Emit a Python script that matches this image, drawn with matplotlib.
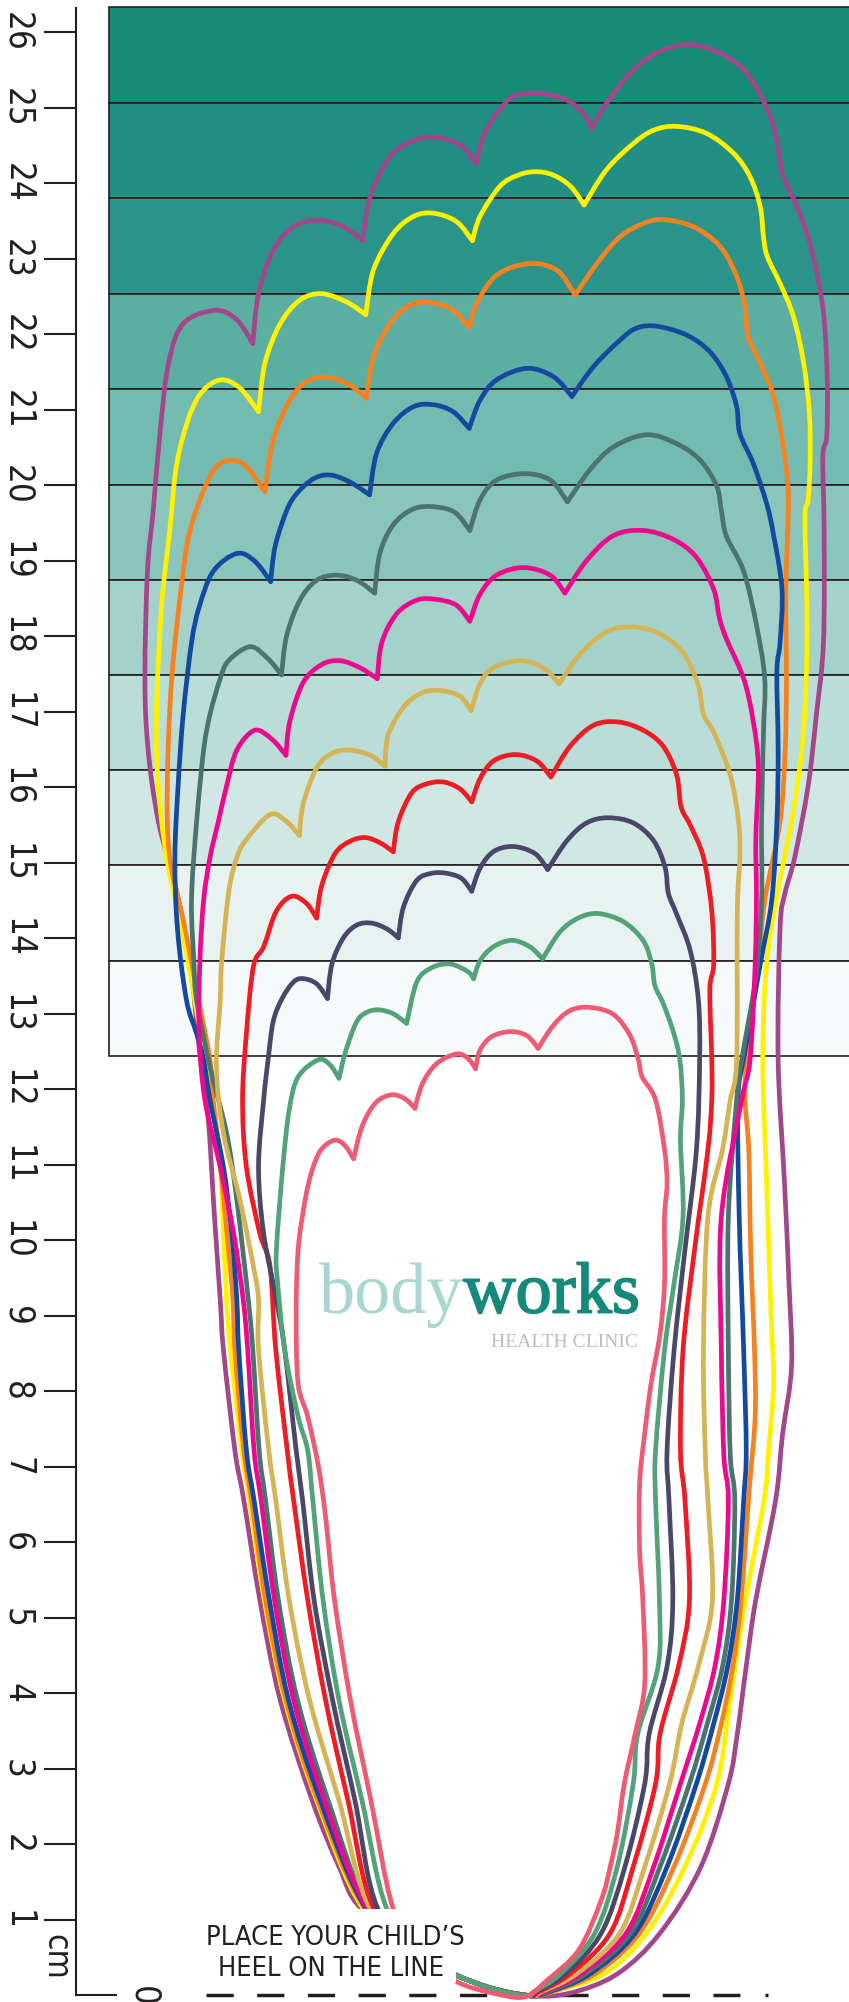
import numpy as np
import matplotlib
matplotlib.use("Agg")
import matplotlib.pyplot as plt
import matplotlib.patheffects as pe
from matplotlib.path import Path
from matplotlib.patches import PathPatch, Rectangle
from matplotlib import font_manager

# picture units: 665 x 1568 (scaled copy of the 849 x 2002 sheet)
W, H = 665, 1568

# shoe size bands behind the toes (top edges + last bottom), light to dark
band_edges = [5.5, 80.7, 155.1, 229.9, 304.7, 379.5, 454.0, 528.8, 603.4, 677.6, 752.4, 827.2]
band_colors = ["#168B78", "#228F84", "#2B948A", "#5BAEA2", "#73BAB0", "#8AC5BC",
               "#A4D1CA", "#BADDD7", "#D1E7E3", "#E8F2F0", "#F6FAFB"]

cm_ticks = list(range(1, 27))

# outlines: [heel/sides segment, toe4, toe3, toe2]; cusps are segment ends
foot_purple = [
    [(463.5, 100.5), (475, 81), (493.5, 57.5), (514, 41.5), (538, 35), (559, 39.5), (580, 52), (595, 73),
     (606, 99), (610.5, 122.5), (613.5, 138.5), (626.5, 167), (637, 201), (645, 245), (648, 298),
     (647.5, 342), (644.5, 357.5), (645.5, 415), (645, 503), (639.5, 559.5), (633, 615.5), (622.5, 671.5),
     (615, 699), (611, 727), (609.5, 830), (614.5, 927), (618, 1005), (620, 1070), (613, 1123),
     (607.5, 1175), (592, 1253), (584.5, 1305), (577.5, 1358), (570.5, 1397), (549, 1462), (517, 1514),
     (483.5, 1546), (446.5, 1561), (415, 1563), (378, 1555), (335, 1535), (283, 1495), (265.5, 1462),
     (244.5, 1410), (219.5, 1331.5), (203.5, 1253), (191, 1175), (184, 1136), (175, 1057), (172.5, 1018),
     (168, 953), (163, 875), (157, 830), (149, 755), (138.5, 699), (124, 643), (116, 587), (113.5, 531.5),
     (115.5, 447.5), (120, 400), (125.5, 337), (132, 284.5), (143.5, 253.5), (168.5, 243), (185.5, 250.5),
     (198, 269)],
    [(198, 269), (202.5, 230), (214, 196), (230, 177.5), (249.5, 172.5), (269, 177.5), (284, 188.5)],
    [(284, 188.5), (290, 154), (305.5, 122.5), (324, 110), (340.5, 107.5), (360.5, 113.5), (373, 128)],
    [(373, 128), (378.5, 107), (389, 89), (402, 75.5), (421.5, 73), (444, 78.5), (457, 89), (463.5, 100.5)],
]

foot_yellow = [
    [(457.5, 160.5), (475, 133), (496, 112.5), (512, 102), (530, 99), (553.5, 104.5), (574.5, 120),
     (587.5, 138.5), (595.5, 162), (598, 185.5), (601, 201), (611, 222), (621.5, 248), (629.5, 284.5),
     (634, 324), (634.5, 363), (633, 391.5), (630.5, 405.5), (632, 475.5), (631.5, 531.5), (628, 587.5),
     (620, 643.5), (608.5, 702), (600.5, 755), (597.5, 830), (600.5, 927), (604, 1031), (606, 1083.5),
     (602, 1136), (598.5, 1175), (584, 1253), (572, 1331), (561.5, 1397), (536.5, 1462), (506.5, 1514),
     (473, 1546), (430, 1560.5), (415, 1563), (378, 1555), (335, 1535), (284.5, 1495), (248, 1410),
     (223, 1331.5), (207, 1253), (195.5, 1175), (189.5, 1136), (180.5, 1057), (177.5, 1018), (175, 966),
     (172.5, 914), (166, 862), (160.5, 830), (152.5, 783), (142.5, 727.5), (130.5, 671.5), (124, 615.5),
     (122.5, 559.5), (126.5, 475.5), (133, 415), (138.5, 363), (149, 324), (159.5, 305.5), (173.5, 297.5),
     (188, 304), (202.5, 322.5)],
    [(202.5, 322.5), (207.5, 284.5), (219.5, 253.5), (235, 235), (252, 230), (271.5, 236.5), (286.5, 246.5)],
    [(286.5, 246.5), (292.5, 211.5), (308, 183), (324, 169.5), (339.5, 167), (357.5, 173.5), (370, 188.5)],
    [(370, 188.5), (376, 169.5), (391.5, 146), (405, 137.5), (419, 134.5), (433, 137), (447, 146),
     (457.5, 160.5)],
]

foot_orange = [
    [(450.5, 231), (467.5, 206.5), (485.5, 185.5), (504, 175), (519.5, 172), (543, 177.5), (564, 193),
     (577, 216.5), (583.5, 240), (586, 263.5), (595.5, 284.5), (606, 310.5), (613.5, 350), (617.5, 389),
     (615.5, 461.5), (616, 531.5), (615, 587.5), (611, 643.5), (599, 705), (594, 755), (585, 830),
     (583.5, 861.5), (586.5, 900.5), (588, 979), (591, 1057.5), (591.5, 1109.5), (587, 1165), (580.5, 1253),
     (574, 1305), (565, 1350), (552.5, 1397), (528, 1462), (501, 1514), (466, 1546), (432, 1560),
     (415, 1563), (378, 1555), (335, 1535), (286, 1495), (249, 1410), (224, 1331.5), (208, 1253),
     (197, 1175), (191, 1136), (184, 1057.5), (182.5, 1018), (179, 979), (171.5, 900.5), (167, 861.5),
     (164.5, 830), (155.5, 783), (145, 727.5), (133, 671.5), (131, 615.5), (134.5, 531.5), (143.5, 447.5),
     (149, 415), (159.5, 384), (169.5, 365.5), (181.5, 360.5), (193, 365.5), (207.5, 385)],
    [(207.5, 385), (214, 344.5), (227, 313.5), (240, 299), (256, 295.5), (274, 301.5), (287, 312)],
    [(287, 312), (292.5, 279.5), (305.5, 253.5), (321, 239), (338, 237), (355, 243), (367.5, 256.5)],
    [(367.5, 256.5), (373.5, 237.5), (389, 215.5), (414, 206.5), (436, 211.5), (450.5, 231)],
]

foot_blue = [
    [(448, 310.5), (465, 287), (485.5, 266.5), (498.5, 257), (514.5, 255.5), (538, 262.5), (556, 275.5),
     (569, 295), (577, 318.5), (579.5, 339.5), (590, 363), (600.5, 394.5), (606, 419.5), (612.5, 461.5),
     (611, 503.5), (608.5, 526), (609.5, 587.5), (608.5, 643.5), (604.5, 705), (595.5, 755), (583, 826),
     (578, 861.5), (579, 953), (582.5, 1057.5), (584.5, 1136), (582.5, 1175), (577.5, 1253), (570, 1305),
     (559, 1350), (545.5, 1397), (522.5, 1462), (497.5, 1514), (462, 1546), (430, 1560), (415, 1563),
     (378, 1555), (335, 1535), (287, 1495), (251, 1410), (226, 1331.5), (211, 1253), (199, 1175),
     (193, 1136), (187, 1057), (185.5, 1018), (181.5, 966), (175, 914), (164.5, 861.5), (159.5, 830),
     (154, 809.5), (146, 783), (139, 727.5), (137, 671.5), (139.5, 615.5), (143.5, 559.5), (150, 503.5),
     (156, 475.5), (167, 447.5), (185.5, 433.5), (199.5, 439.5), (212, 455.5)],
    [(212, 455.5), (215.5, 428), (224.5, 400), (232.5, 386.5), (245.5, 375), (258.5, 372), (274, 377.5),
     (289.5, 387.5)],
    [(289.5, 387.5), (295, 355), (308, 331.5), (324, 318.5), (339.5, 317), (355, 322.5), (367.5, 335.5)],
    [(367.5, 335.5), (376, 313.5), (389, 297.5), (412.5, 288.5), (433.5, 295), (448, 310.5)],
]

foot_slate = [
    [(444.5, 393), (462, 368), (480.5, 350), (506.5, 340.5), (530, 347.5), (548.5, 360.5), (561.5, 381),
     (565, 400), (569, 420), (582.5, 447.5), (592.5, 489.5), (599, 531.5), (598, 573.5), (596.5, 643.5),
     (596.5, 705), (592, 765), (581, 830), (577, 861.5), (570.5, 953), (570.5, 1057), (572, 1140),
     (575.5, 1175), (573, 1253), (566, 1305), (554, 1350), (540, 1397), (517, 1462), (494, 1514),
     (458.5, 1546), (428, 1560), (415, 1563), (378, 1555), (335, 1535), (289, 1495), (257, 1410),
     (233, 1331.5), (218, 1253), (208, 1175), (203, 1136), (198, 1057), (194.5, 1018), (185.5, 940),
     (177.5, 887.5), (164.5, 835.5), (154, 783.5), (152, 755), (150, 705), (154, 643.5), (159.5, 587.5),
     (164.5, 559.5), (172.5, 531.5), (179, 517.5), (196, 506.5), (210, 516), (220.5, 528.5)],
    [(220.5, 528.5), (224.5, 498), (235, 470), (248, 454.5), (263.5, 450.5), (279.5, 454.5), (293.5, 464.5)],
    [(293.5, 464.5), (297.5, 433.5), (308, 411), (324, 398.5), (341, 397), (356.5, 401.5), (368, 415.5)],
    [(368, 415.5), (376, 391.5), (389, 376), (411, 371), (431, 376), (444.5, 393)],
]

foot_magenta = [
    [(442.5, 464.5), (459.5, 439), (480.5, 419.5), (504, 415.5), (527.5, 422.5), (545.5, 436.5),
     (559, 461.5), (563.5, 484), (569, 500.5), (582.5, 531.5), (590, 565), (594, 601.5), (592, 657.5),
     (592.5, 699.5), (591.5, 755), (587.5, 830), (581, 861.5), (565, 953), (565, 1057), (567, 1140),
     (570.5, 1175), (567, 1253), (560, 1305), (548, 1350), (533, 1397), (512, 1462), (490.5, 1514),
     (455, 1546), (426, 1560), (415, 1563), (378, 1555), (335, 1535), (288, 1495), (254, 1410),
     (230, 1331.5), (215, 1253), (204.5, 1175), (199, 1136), (194, 1057), (190.5, 1018), (183, 966),
     (172.5, 914), (160.5, 861.5), (156, 809.5), (156.5, 755), (159.5, 705), (164.5, 671.5), (171, 643.5),
     (177.5, 615.5), (185.5, 587.5), (199.5, 572), (213, 579), (224, 591.5)],
    [(224, 591.5), (227, 565), (237.5, 534.5), (252, 520.5), (266.5, 517.5), (282, 523), (295.5, 531.5)],
    [(295.5, 531.5), (299, 503.5), (310.5, 481), (326.5, 470), (342, 469.5), (357.5, 474), (368, 486.5)],
    [(368, 486.5), (376, 465.5), (389, 450.5), (410, 444.5), (431, 450.5), (442.5, 464.5)],
]

foot_gold = [
    [(438, 535.5), (454.5, 512), (475, 495), (495, 491), (517, 496.5), (535.5, 512), (547, 537),
     (551, 559.5), (559, 573.5), (572, 607), (578.5, 643.5), (579.5, 671.5), (577.5, 713.5), (577, 830),
     (572, 861.5), (566, 900), (554.5, 953), (551, 1057), (552.5, 1140), (554.5, 1175), (558, 1253),
     (547, 1305), (534, 1350), (524.5, 1397), (505, 1462), (485.5, 1514), (451.5, 1546), (424, 1560),
     (415, 1563), (378, 1555), (335, 1535), (290, 1495), (265.5, 1410), (242.5, 1331.5), (226.5, 1253),
     (216, 1175), (210.5, 1136), (202.5, 1057), (202.5, 1018), (198.5, 992), (188, 940), (175, 887.5),
     (169.5, 835.5), (172.5, 783.5), (173.5, 755), (179, 699.5), (185.5, 671.5), (193, 657.5),
     (211.5, 638), (224.5, 643.5), (234.5, 654.5)],
    [(234.5, 654.5), (237.5, 629.5), (248, 601.5), (260, 590), (274, 587.5), (290, 591.5), (301.5, 600)],
    [(301.5, 600), (304, 576), (316, 554), (330.5, 542.5), (346, 541), (360.5, 545.5), (369, 556.5)],
    [(369, 556.5), (376, 535.5), (386.5, 523), (407.5, 517.5), (425.5, 523), (438, 535.5)],
]

foot_red = [
    [(431.5, 608.5), (446.5, 584.5), (465, 568), (484.5, 565.5), (504, 572), (519.5, 584.5), (530, 607),
     (533.5, 632), (540.5, 646), (551, 671.5), (557.5, 713.5), (559, 755), (556, 775), (557.5, 830),
     (557.5, 861.5), (554.5, 900.5), (544, 979), (535, 1057.5), (533, 1136), (536.5, 1175), (540, 1253),
     (531.5, 1305), (517, 1358), (513.5, 1397), (496, 1462), (478, 1514), (446.5, 1546), (422, 1560),
     (414, 1563), (378, 1555), (335, 1535), (293, 1495), (272.5, 1410), (255, 1331.5), (241, 1253),
     (230, 1175), (225, 1136), (216, 1057), (211.5, 992), (203.5, 966), (193, 914), (190, 861.5),
     (193, 809.5), (198.5, 757), (206.5, 741.5), (216.5, 713.5), (228.5, 702), (240, 707.5), (248, 719)],
    [(248, 719), (252, 693.5), (262.5, 668.5), (274, 659), (286, 656), (297.5, 660), (308, 667)],
    [(308, 667), (312, 643.5), (322.5, 621), (334, 614), (347.5, 612.5), (360.5, 618), (369.5, 628)],
    [(369.5, 628), (376, 610), (386.5, 596), (403.5, 591), (420.5, 596), (431.5, 608.5)],
]

foot_dark = [
    [(429, 681), (444, 658.5), (459.5, 644.5), (476.5, 640.5), (496, 644.5), (512, 658.5), (521, 679.5),
     (523.5, 699.5), (530, 716), (540.5, 744), (547, 783), (548, 830), (545.5, 900.5), (536.5, 979),
     (528, 1057.5), (522.5, 1136), (524, 1175), (527, 1253), (522.5, 1305), (508.5, 1358), (505, 1397),
     (489.5, 1462), (471, 1514), (443, 1546), (420, 1560), (413, 1563), (378, 1555), (335, 1535),
     (296, 1495), (278, 1410), (260.5, 1331.5), (246, 1253), (237, 1175), (232, 1136), (223, 1057),
     (216.5, 1018), (206.5, 966), (202.5, 914), (206.5, 861.5), (210, 830), (214, 800), (221, 782),
     (230, 769), (237.5, 766.5), (248, 770.5), (256.5, 782)],
    [(256.5, 782), (260, 755), (269, 734.5), (279.5, 724.5), (291, 723), (303, 727.5), (312, 734.5)],
    [(312, 734.5), (316, 710.5), (326.5, 689.5), (338, 684), (350, 684), (361.5, 688), (369.5, 698)],
    [(369.5, 698), (376, 680), (386.5, 667), (402, 663), (419, 668.5), (429, 681)],
]

foot_green = [
    [(425, 751), (438.5, 730), (453, 719), (468.5, 715.5), (488.5, 722), (504, 737), (510.5, 755),
     (513, 772), (519.5, 786), (527.5, 808.5), (532.5, 830), (534.5, 861.5), (533, 893), (535, 953),
     (528, 1005), (520.5, 1057.5), (513.5, 1136), (513.5, 1175), (516.5, 1253), (515.5, 1305),
     (499.5, 1358), (496, 1397), (483.5, 1462), (466, 1514), (439, 1546), (418, 1560), (412, 1563),
     (378, 1555), (335, 1535), (303, 1495), (283.5, 1410), (265.5, 1331.5), (253, 1253), (245, 1175),
     (241, 1136), (233.5, 1109.5), (223, 1057.5), (217.5, 1005), (216.5, 979), (221.5, 914),
     (226.5, 869.5), (233.5, 843.5), (249.5, 830), (258.5, 834), (265.5, 844.5)],
    [(265.5, 844.5), (271, 822.5), (279.5, 800), (288, 792.5), (297.5, 791), (308, 794), (318.5, 801.5)],
    [(318.5, 801.5), (326.5, 769), (338, 758), (352.5, 755), (366.5, 761), (371, 766.5)],
    [(371, 766.5), (376, 752.5), (386.5, 741.5), (401, 736.5), (415, 741.5), (425, 751)],
]

foot_pink = [
    [(421.5, 821), (433.5, 803), (446.5, 791.5), (462, 789), (480.5, 794.5), (493.5, 811), (500, 830),
     (503, 843.5), (513.5, 861.5), (520.5, 900.5), (522.5, 927), (520.5, 953), (520.5, 1005),
     (517, 1044.5), (510, 1083.5), (505, 1122.5), (501, 1162), (501, 1214), (503.5, 1253), (505, 1318.5),
     (497.5, 1358), (489, 1397), (483.5, 1436), (478, 1462), (471, 1488), (453.5, 1527), (428.5, 1551),
     (411, 1564), (386, 1561), (357.5, 1552), (330, 1532), (308, 1495), (290.5, 1410), (274.5, 1331.5),
     (262, 1253), (255, 1188), (249.5, 1149), (241, 1109.5), (233.5, 1083.5), (232, 1031), (233.5, 979),
     (239, 940), (244.5, 916.5), (251.5, 900.5), (262, 893), (270, 897), (277, 907.5)],
    [(277, 907.5), (283.5, 882.5), (294, 864), (306.5, 857.5), (317, 860.5), (325, 868)],
    [(325, 868), (331, 848.5), (342, 833), (357.5, 825.5), (366.5, 829), (372.5, 837)],
    [(372.5, 837), (376, 822.5), (385, 812), (399.5, 808), (412.5, 811), (421.5, 821)],
]

feet = [foot_purple, foot_yellow, foot_orange, foot_blue, foot_slate, foot_magenta,
        foot_gold, foot_red, foot_dark, foot_green, foot_pink]
foot_colors = ["#A2478A", "#FFF200", "#F58220", "#1449A0", "#4B7470", "#EC0A8C",
               "#D4B455", "#EE1C25", "#4A4868", "#52A27A", "#EE5C74"]

INK = "#231F20"

names = {f.name for f in font_manager.fontManager.ttflist}
if "Liberation Sans Narrow" in names:
    narrow = {"family": "Liberation Sans Narrow"}
else:
    narrow = {"family": "DejaVu Sans", "stretch": "condensed"}


def smooth(points):
    # catmull-rom through the traced points, as cubic bezier pieces
    p = np.asarray(points, float)
    verts = [p[0]]
    codes = [Path.MOVETO]
    for i in range(len(p) - 1):
        a = p[i - 1] if i > 0 else p[i]
        b, c = p[i], p[i + 1]
        d = p[i + 2] if i + 2 < len(p) else c
        verts += [b + (c - a) / 6, c - (d - b) / 6, c]
        codes += [Path.CURVE4] * 3
    return Path(verts, codes)


fig = plt.figure(figsize=(8.49, 20.02), dpi=100)
ax = fig.add_axes([0, 0, 1, 1])
ax.set_xlim(0, W)
ax.set_ylim(H, 0)
ax.axis("off")

# size bands
tops = np.array(band_edges[:-1])
heights = np.diff(band_edges)
ax.barh(tops + heights / 2, 800, left=85.5, height=heights, color=band_colors,
        edgecolor=INK, linewidth=1.2, zorder=1)

# heel line
ax.plot([161, 579.3], [1562.6, 1562.6], color=INK, lw=2.5, dashes=(19.6 / 2.5, 16.9 / 2.5),
        solid_capstyle="butt", zorder=2)
ax.plot([599.5, 601.5], [1562.6, 1562.6], color=INK, lw=2.5, solid_capstyle="butt", zorder=2)

for foot, col in zip(feet, foot_colors):
    for seg in foot:
        ax.add_patch(PathPatch(smooth(seg), fill=False, edgecolor=col, lw=3.4,
                               joinstyle="round", capstyle="round", zorder=3))

# heel label box
ax.add_patch(Rectangle((150, 1495), 207, 58, facecolor="white", edgecolor="none", zorder=5))
ax.text(263, 1518, "PLACE YOUR CHILD’S", ha="center", va="center", fontsize=19.5,
        color=INK, zorder=6, **narrow)
ax.text(259.5, 1542.5, "HEEL ON THE LINE", ha="center", va="center", fontsize=19.5,
        color=INK, zorder=6, **narrow)

# logo
logo_font = "Liberation Serif"
ax.text(363, 1028, "body", ha="right", va="baseline", fontsize=52, color="#A9D6CF",
        family=logo_font, zorder=6)
ax.text(363, 1028, "works", ha="left", va="baseline", fontsize=52, color="#15897C",
        family=logo_font, zorder=6,
        path_effects=[pe.withStroke(linewidth=1.3, foreground="#15897C")])
ax.text(500, 1055, "HEALTH CLINIC", ha="right", va="baseline", fontsize=14,
        color="#BDBDBD", family=logo_font, zorder=6)

# cm ruler
ax_r = fig.add_axes([76 / 849, 7 / 2002, 40 / 849, 1987 / 2002])
ax_r.set_facecolor("none")
ax_r.set_ylim(0, 1987 / 75.5)
ax_r.set_xlim(0, 1)
for s in ["top", "right"]:
    ax_r.spines[s].set_visible(False)
for s in ["left", "bottom"]:
    ax_r.spines[s].set_color(INK)
    ax_r.spines[s].set_linewidth(1.5)
ax_r.set_xticks([])
ax_r.set_yticks(cm_ticks, [str(t) for t in cm_ticks], rotation=-90, va="center",
                fontsize=25, color=INK, **narrow)
ax_r.tick_params(axis="y", direction="out", length=23, width=1.5, color=INK, pad=7)

ax.text(44, 1533, "cm", rotation=-90, ha="center", va="center", fontsize=24, color=INK, **narrow)
ax.text(112, 1563, "0", rotation=-90, ha="center", va="center", fontsize=25, color=INK, **narrow)

fig.savefig("out.png", dpi=100)
